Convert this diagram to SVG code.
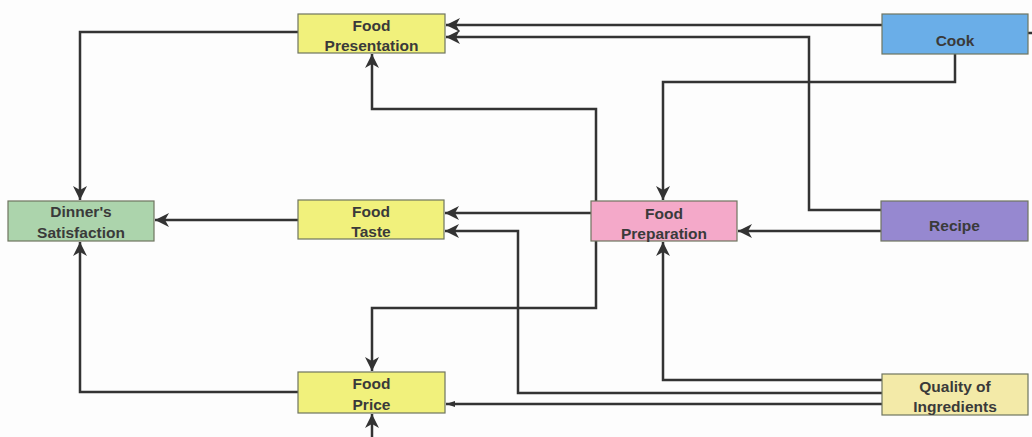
<svg xmlns="http://www.w3.org/2000/svg" width="1032" height="437" viewBox="0 0 1032 437">
<style>
.box{stroke:#6f7560;stroke-width:1.2}
.y{fill:#f1f17c}
.t{font-family:"Liberation Sans",Arial,sans-serif;font-size:15.5px;font-weight:bold;fill:#3a3a3a;text-anchor:middle}
.c{fill:none;stroke:#333;stroke-width:2.5}
</style>
<defs>
<marker id="a" markerUnits="userSpaceOnUse" markerWidth="16" markerHeight="14" refX="14" refY="7" orient="auto">
<path d="M0,0 L14,7 L0,14 L4,7 z" fill="#333"/>
</marker>
<marker id="s" markerUnits="userSpaceOnUse" markerWidth="10" markerHeight="8" refX="9" refY="4" orient="auto">
<path d="M0,1 L9,4 L0,7 z" fill="#333"/>
</marker>
</defs>
<rect width="1032" height="437" fill="#fdfdfd"/>
<g id="connectors">
<path class="c" d="M298,32 H80 V200" marker-end="url(#a)"/>
<path class="c" d="M298,392 H80 V242" marker-end="url(#a)"/>
<path class="c" d="M298,220 H155" marker-end="url(#a)"/>
<path class="c" d="M882,25 H446" marker-end="url(#a)"/>
<path class="c" d="M881,210 H809 V37 H446" marker-end="url(#a)"/>
<path class="c" d="M955,54 V82 H663 V200" marker-end="url(#a)"/>
<path class="c" d="M596,201 V109 H372 V54" marker-end="url(#a)"/>
<path class="c" d="M591,213 H445" marker-end="url(#a)"/>
<path class="c" d="M882,393 H518 V231 H445" marker-end="url(#a)"/>
<path class="c" d="M881,231 H738" marker-end="url(#a)"/>
<path class="c" d="M882,380 H663 V242" marker-end="url(#a)"/>
<path class="c" d="M882,404 H446" marker-end="url(#s)"/>
<path class="c" d="M596,241 V308 H372 V371" marker-end="url(#a)"/>
<path class="c" d="M372,437 V414" marker-end="url(#a)"/>
<path class="c" d="M1028,33 H1032"/>
</g>
<g id="food-presentation">
<rect class="box y" x="298" y="14" width="147" height="39"/>
<text class="t" x="371.5" y="30.5">Food</text>
<text class="t" x="371.5" y="51">Presentation</text>
</g>
<g id="cook">
<rect class="box" fill="#6aaee8" x="882" y="14" width="146" height="40"/>
<text class="t" x="955" y="46">Cook</text>
</g>
<g id="dinners-satisfaction">
<rect class="box" fill="#acd4ac" x="8" y="201" width="146" height="40"/>
<text class="t" x="81" y="217">Dinner's</text>
<text class="t" x="81" y="237.5">Satisfaction</text>
</g>
<g id="food-taste">
<rect class="box y" x="298" y="200" width="146" height="39"/>
<text class="t" x="371" y="216.5">Food</text>
<text class="t" x="371" y="237">Taste</text>
</g>
<g id="food-preparation">
<rect class="box" fill="#f4a9c9" x="591" y="201" width="146" height="40"/>
<text class="t" x="664" y="219">Food</text>
<text class="t" x="664" y="239">Preparation</text>
</g>
<g id="recipe">
<rect class="box" fill="#9688d0" x="881" y="201" width="147" height="40"/>
<text class="t" x="954.5" y="231">Recipe</text>
</g>
<g id="food-price">
<rect class="box y" x="298" y="372" width="147" height="41"/>
<text class="t" x="371.5" y="389">Food</text>
<text class="t" x="371.5" y="409.5">Price</text>
</g>
<g id="quality-of-ingredients">
<rect class="box" fill="#f3eaa8" x="882" y="374" width="146" height="41"/>
<text class="t" x="955" y="391.5">Quality of</text>
<text class="t" x="955" y="411.5">Ingredients</text>
</g>
</svg>
